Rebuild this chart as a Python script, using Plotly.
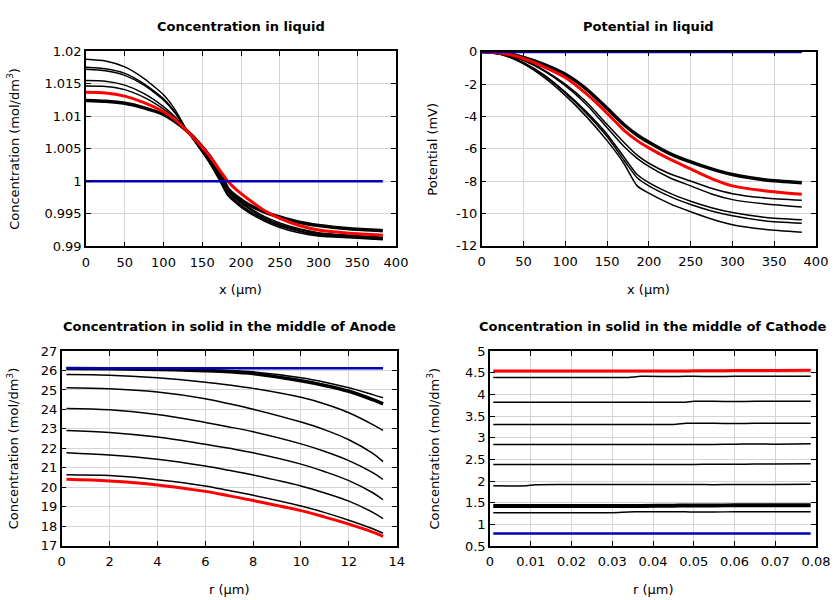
import plotly.graph_objects as go

# ---------------- data ----------------
# Concentration in liquid
X_LIQ = [0, 25, 50, 75, 100, 115, 130, 145, 160, 172, 183, 195, 210, 230, 250, 275, 300, 340, 383]
LIQ_B5 = [1.01877, 1.0185, 1.0176, 1.0158, 1.0133, 1.0110, 1.0079, 1.0053, 1.0027, 1.0002, 0.9978, 0.9965, 0.9952, 0.9939, 0.9929, 0.9921, 0.9916, 0.99130, 0.99102]
LIQ_B4 = [1.01754, 1.0173, 1.0166, 1.0150, 1.0127, 1.0106, 1.0078, 1.0054, 1.0029, 1.0004, 0.9980, 0.9967, 0.9954, 0.9941, 0.9931, 0.9923, 0.9917, 0.99140, 0.99110]
LIQ_B3 = [1.01723, 1.0170, 1.0163, 1.0148, 1.0125, 1.0105, 1.0078, 1.0055, 1.0030, 1.0005, 0.9981, 0.9968, 0.9955, 0.9942, 0.9932, 0.9924, 0.9918, 0.99150, 0.99120]
LIQ_B2 = [1.01549, 1.0154, 1.0148, 1.0135, 1.0115, 1.0099, 1.0078, 1.0057, 1.0033, 1.0008, 0.9984, 0.9971, 0.9958, 0.9944, 0.9934, 0.9926, 0.9920, 0.99160, 0.99130]
LIQ_B1 = [1.01466, 1.0146, 1.0141, 1.0129, 1.0111, 1.0097, 1.0078, 1.0058, 1.0034, 1.0010, 0.9986, 0.9973, 0.9960, 0.9946, 0.9936, 0.9927, 0.9921, 0.99170, 0.99138]
LIQ_THICK = [1.01242, 1.0123, 1.0120, 1.0113, 1.0103, 1.0092, 1.0078, 1.0060, 1.0038, 1.0015, 0.9989, 0.9976, 0.9964, 0.9953, 0.9945, 0.9937, 0.9932, 0.99270, 0.99240]
LIQ_RED = [1.01369, 1.0136, 1.0131, 1.0121, 1.0107, 1.0095, 1.0078, 1.0059, 1.0038, 1.0018, 1.0000, 0.9986, 0.9972, 0.9955, 0.9943, 0.9932, 0.9925, 0.9920, 0.99170]
LIQ_BLUE_X = [0, 383]
LIQ_BLUE = [1.0, 1.0]

# Potential in liquid
X_POT = [0, 25, 50, 75, 100, 125, 150, 170, 186, 200, 225, 250, 275, 300, 340, 383]
POT_THICK = [0, -0.08, -0.35, -0.8, -1.4, -2.3, -3.5, -4.5, -5.15, -5.6, -6.3, -6.82, -7.25, -7.6, -7.93, -8.10]
POT_C1 = [0, -0.12, -0.5, -1.15, -2.0, -3.1, -4.5, -5.6, -6.4, -6.9, -7.55, -8.0, -8.45, -8.78, -9.05, -9.19]
POT_C2 = [0, -0.13, -0.55, -1.2, -2.1, -3.25, -4.7, -5.85, -6.6, -7.1, -7.8, -8.3, -8.8, -9.15, -9.42, -9.60]
POT_C3 = [0, -0.17, -0.68, -1.45, -2.5, -3.7, -5.1, -6.5, -7.6, -8.1, -8.75, -9.25, -9.65, -9.95, -10.25, -10.39]
POT_C4 = [0, -0.18, -0.7, -1.5, -2.55, -3.8, -5.25, -6.7, -7.8, -8.3, -8.95, -9.45, -9.85, -10.15, -10.47, -10.61]
POT_C5 = [0, -0.2, -0.75, -1.6, -2.7, -4.0, -5.5, -6.9, -8.3, -8.75, -9.4, -9.9, -10.35, -10.7, -11.0, -11.17]
POT_RED = [0, -0.1, -0.42, -0.95, -1.6, -2.6, -3.8, -4.85, -5.5, -5.95, -6.65, -7.25, -7.85, -8.3, -8.62, -8.82]
POT_BLUE_X = [0, 383]
POT_BLUE = [0, 0]

# Concentration in solid, anode
X_AN = [0.2, 2, 4, 6, 7, 8, 10, 11, 12, 13, 13.43]
AN_TOP = [26.11, 26.10, 26.08, 26.04, 26.0, 25.93, 25.63, 25.40, 25.11, 24.76, 24.6]
AN_THICK = [26.10, 26.09, 26.05, 25.99, 25.94, 25.84, 25.47, 25.23, 24.93, 24.50, 24.29]
AN_L2 = [25.79, 25.76, 25.62, 25.40, 25.25, 25.08, 24.62, 24.28, 23.83, 23.22, 22.92]
AN_L3 = [25.11, 25.06, 24.89, 24.55, 24.29, 24.01, 23.35, 22.95, 22.44, 21.74, 21.32]
AN_L4 = [24.05, 23.98, 23.74, 23.33, 23.10, 22.85, 22.23, 21.84, 21.37, 20.75, 20.40]
AN_L5 = [22.92, 22.82, 22.58, 22.21, 22.0, 21.77, 21.19, 20.80, 20.34, 19.72, 19.36]
AN_L6 = [21.78, 21.66, 21.44, 21.09, 20.87, 20.63, 20.07, 19.71, 19.29, 18.71, 18.39]
AN_L7 = [20.65, 20.60, 20.39, 20.07, 19.83, 19.59, 19.04, 18.70, 18.31, 17.87, 17.64]
AN_RED = [20.41, 20.32, 20.12, 19.79, 19.56, 19.32, 18.80, 18.47, 18.11, 17.70, 17.48]
AN_BLUE_X = [0.2, 13.43]
AN_BLUE = [26.12, 26.12]

# Concentration in solid, cathode
X_CA = [0.0008, 0.009, 0.011, 0.02, 0.03, 0.034, 0.037, 0.045, 0.048, 0.05, 0.055, 0.06, 0.065, 0.07, 0.0787]
CA_K1 = [4.39, 4.39, 4.39, 4.39, 4.39, 4.39, 4.415, 4.41, 4.415, 4.415, 4.41, 4.415, 4.415, 4.415, 4.42]
CA_K2 = [3.82, 3.82, 3.82, 3.82, 3.82, 3.82, 3.82, 3.82, 3.82, 3.84, 3.84, 3.835, 3.84, 3.838, 3.84]
CA_K3 = [3.305, 3.305, 3.305, 3.305, 3.305, 3.305, 3.305, 3.305, 3.33, 3.335, 3.33, 3.325, 3.33, 3.33, 3.335]
CA_K4 = [2.843, 2.843, 2.843, 2.843, 2.843, 2.843, 2.843, 2.843, 2.843, 2.845, 2.845, 2.85, 2.855, 2.85, 2.86]
CA_K5 = [2.38, 2.38, 2.38, 2.38, 2.38, 2.38, 2.38, 2.38, 2.38, 2.383, 2.385, 2.385, 2.39, 2.39, 2.40]
CA_K6 = [1.89, 1.89, 1.915, 1.92, 1.92, 1.92, 1.92, 1.92, 1.92, 1.92, 1.915, 1.92, 1.92, 1.92, 1.926]
CA_THICK = [1.425, 1.425, 1.425, 1.425, 1.425, 1.425, 1.425, 1.43, 1.435, 1.435, 1.435, 1.44, 1.44, 1.44, 1.44]
CA_K7 = [1.27, 1.27, 1.27, 1.27, 1.27, 1.285, 1.29, 1.29, 1.29, 1.285, 1.285, 1.29, 1.29, 1.29, 1.29]
CA_RED = [4.538, 4.538, 4.538, 4.538, 4.538, 4.538, 4.538, 4.540, 4.540, 4.542, 4.542, 4.550, 4.552, 4.552, 4.553]
CA_BLUE_X = [0.0008, 0.0787]
CA_BLUE = [0.79, 0.79]

# tick labels
TL_XT = [0, 50, 100, 150, 200, 250, 300, 350, 400]
TL_YT = [0.99, 0.995, 1.0, 1.005, 1.01, 1.015, 1.02]
TL_YL = ["0.99", "0.995", "1", "1.005", "1.01", "1.015", "1.02"]
TR_YT = [-12, -10, -8, -6, -4, -2, 0]
TR_YL = ["-12", "-10", "-8", "-6", "-4", "-2", "0"]
BL_XT = [0, 2, 4, 6, 8, 10, 12, 14]
BL_YT = [17, 18, 19, 20, 21, 22, 23, 24, 25, 26, 27]
BR_XT = [0, 0.01, 0.02, 0.03, 0.04, 0.05, 0.06, 0.07, 0.08]
BR_XL = ["0", "0.01", "0.02", "0.03", "0.04", "0.05", "0.06", "0.07", "0.08"]
BR_YT = [0.5, 1, 1.5, 2, 2.5, 3, 3.5, 4, 4.5, 5]
BR_YL = ["0.5", "1", "1.5", "2", "2.5", "3", "3.5", "4", "4.5", "5"]

TITLES = ["Concentration in liquid", "Potential in liquid",
          "Concentration in solid in the middle of Anode",
          "Concentration in solid in the middle of Cathode"]

# ---------------- figure ----------------
W, H = 840, 600
BLACK = "#000000"
RED = "#ff0000"
BLUE = "#0000b4"
FONT = "DejaVu Sans"

fig = go.Figure()


def add(x, y, ax, color, width, smooth=0.6):
    xa, ya = ax
    fig.add_trace(go.Scatter(x=x, y=y, mode="lines", xaxis=xa, yaxis=ya,
                             line=dict(color=color, width=width, shape="spline", smoothing=smooth),
                             showlegend=False, hoverinfo="skip"))


ax1 = ("x", "y")
for yy in [LIQ_B5, LIQ_B4, LIQ_B3, LIQ_B2, LIQ_B1]:
    add(X_LIQ, yy, ax1, BLACK, 1.5)
add(X_LIQ, LIQ_THICK, ax1, BLACK, 3.5)
add(X_LIQ, LIQ_RED, ax1, RED, 3)
add(LIQ_BLUE_X, LIQ_BLUE, ax1, BLUE, 2.5)

ax2 = ("x2", "y2")
for yy in [POT_C5, POT_C4, POT_C3, POT_C2, POT_C1]:
    add(X_POT, yy, ax2, BLACK, 1.5)
add(X_POT, POT_THICK, ax2, BLACK, 3.5)
add(X_POT, POT_RED, ax2, RED, 3)
add(POT_BLUE_X, POT_BLUE, ax2, BLUE, 3)

ax3 = ("x3", "y3")
for yy in [AN_TOP, AN_L2, AN_L3, AN_L4, AN_L5, AN_L6, AN_L7]:
    add(X_AN, yy, ax3, BLACK, 1.5, 1.0)
add(X_AN, AN_THICK, ax3, BLACK, 3.5, 1.0)
add(X_AN, AN_RED, ax3, RED, 3, 1.0)
add(AN_BLUE_X, AN_BLUE, ax3, BLUE, 2.5)

ax4 = ("x4", "y4")
for yy in [CA_K1, CA_K2, CA_K3, CA_K4, CA_K5, CA_K6, CA_K7]:
    add(X_CA, yy, ax4, BLACK, 1.5)
add(X_CA, CA_THICK, ax4, BLACK, 4)
add(X_CA, CA_RED, ax4, RED, 3)
add(CA_BLUE_X, CA_BLUE, ax4, BLUE, 2.5)


def dom(p0, p1, total, flip=False):
    if flip:
        return [1 - p1 / total, 1 - p0 / total]
    return [p0 / total, p1 / total]


common = dict(showline=True, linecolor="black", linewidth=1.5, mirror="ticks",
              ticks="inside", ticklen=5, tickwidth=1.2, tickcolor="black",
              showgrid=True, gridcolor="#d4d4d4", gridwidth=1, zeroline=False,
              automargin=False,
              tickfont=dict(family=FONT, size=13, color="black"))
xcommon = dict(common, ticklabelstandoff=3)

PLOTS = {
    1: dict(x=(86, 396), y=(51.3, 246.3)),
    2: dict(x=(481.7, 816), y=(51.7, 245.7)),
    3: dict(x=(61.7, 396.7), y=(351, 545.7)),
    4: dict(x=(490, 816), y=(351, 546)),
}

layout = dict(
    width=W, height=H, autosize=False, margin=dict(l=0, r=0, t=0, b=0, pad=0),
    paper_bgcolor="white", plot_bgcolor="white",
    font=dict(family=FONT, size=13, color="black"),
    xaxis=dict(domain=dom(*PLOTS[1]["x"], W), anchor="y", range=[0, 400], tickvals=TL_XT, **xcommon),
    yaxis=dict(domain=dom(*PLOTS[1]["y"], H, True), anchor="x", range=[0.99, 1.02], tickvals=TL_YT, ticktext=TL_YL, **common),
    xaxis2=dict(domain=dom(*PLOTS[2]["x"], W), anchor="y2", range=[0, 400], tickvals=TL_XT, **xcommon),
    yaxis2=dict(domain=dom(*PLOTS[2]["y"], H, True), anchor="x2", range=[-12, 0], tickvals=TR_YT, ticktext=TR_YL, **common),
    xaxis3=dict(domain=dom(*PLOTS[3]["x"], W), anchor="y3", range=[0, 14], tickvals=BL_XT, **xcommon),
    yaxis3=dict(domain=dom(*PLOTS[3]["y"], H, True), anchor="x3", range=[17, 27], tickvals=BL_YT, **common),
    xaxis4=dict(domain=dom(*PLOTS[4]["x"], W), anchor="y4", range=[0, 0.08], tickvals=BR_XT, ticktext=BR_XL, **xcommon),
    yaxis4=dict(domain=dom(*PLOTS[4]["y"], H, True), anchor="x4", range=[0.5, 5], tickvals=BR_YT, ticktext=BR_YL, **common),
)
fig.update_layout(**layout)

ann = []
for i, t in enumerate(TITLES, start=1):
    p = PLOTS[i]
    cx = (p["x"][0] + p["x"][1]) / 2 / W
    ty = 26 if i <= 2 else 326
    ann.append(dict(text="<b>%s</b>" % t, x=cx, y=1 - ty / H, xref="paper", yref="paper",
                    xanchor="center", yanchor="middle", showarrow=False,
                    font=dict(family=FONT, size=13, color="black")))

XTITLES = ["x (µm)", "x (µm)", "r (µm)", "r (µm)"]
YTITLES = ["Concentration (mol/dm<sup>3</sup>)", "Potential (mV)",
           "Concentration (mol/dm<sup>3</sup>)", "Concentration (mol/dm<sup>3</sup>)"]
for i in range(1, 5):
    p = PLOTS[i]
    cx = (p["x"][0] + p["x"][1]) / 2 / W
    xy = 289 if i <= 2 else 589
    ann.append(dict(text=XTITLES[i - 1], x=cx, y=1 - xy / H, xref="paper", yref="paper",
                    xanchor="center", yanchor="middle", showarrow=False,
                    font=dict(family=FONT, size=13, color="black")))
    yx = 13 if i in (1, 3) else 433
    cy = (p["y"][0] + p["y"][1]) / 2
    ann.append(dict(text=YTITLES[i - 1], x=yx / W, y=1 - cy / H, xref="paper", yref="paper",
                    xanchor="center", yanchor="middle", textangle=-90, showarrow=False,
                    font=dict(family=FONT, size=13, color="black")))
fig.update_layout(annotations=ann)

fig.write_html("out.html", config={"displayModeBar": False},
               post_script="document.body.style.margin='0px';document.body.style.padding='0px';")
